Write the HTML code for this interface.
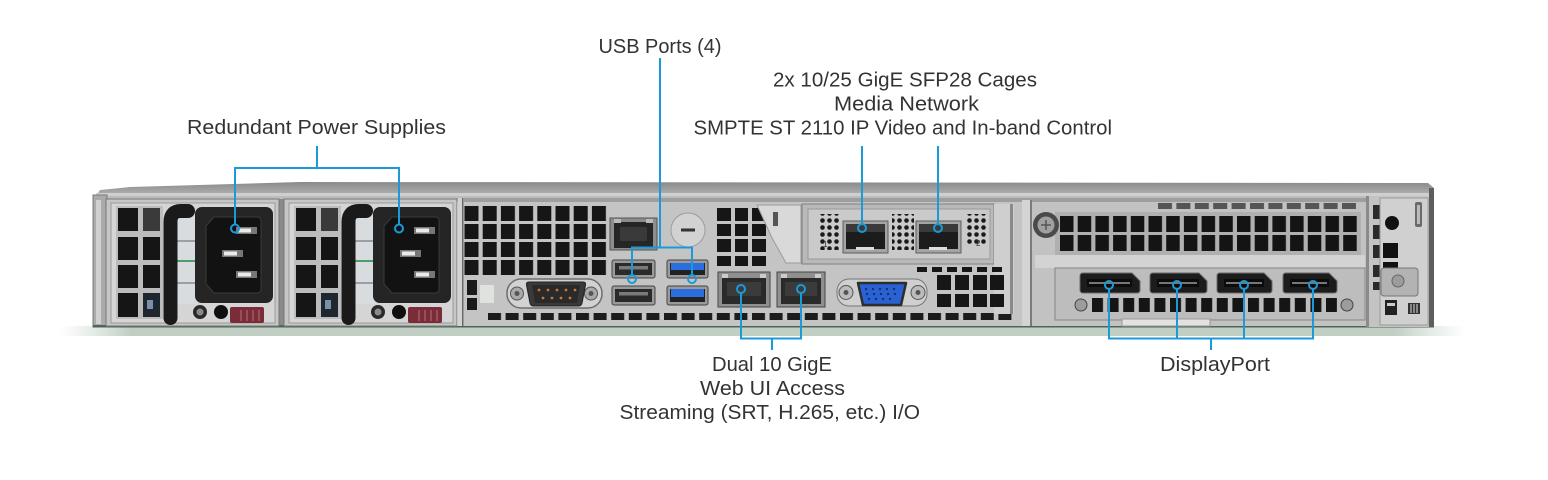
<!DOCTYPE html>
<html><head><meta charset="utf-8">
<style>
html,body{margin:0;padding:0;background:#fff;}
svg{display:block;}
text.l{font-family:"Liberation Sans",sans-serif;font-size:20px;fill:#333;}
</style></head>
<body>
<svg width="1548" height="480" viewBox="0 0 1548 480" xmlns="http://www.w3.org/2000/svg">
<defs>
 <linearGradient id="lid" x1="0" y1="0" x2="0" y2="1">
  <stop offset="0" stop-color="#8a8a8a"/><stop offset="0.6" stop-color="#a6a6a6"/><stop offset="1" stop-color="#c4c4c4"/>
 </linearGradient>
 <linearGradient id="shd" x1="0" y1="0" x2="1" y2="0">
  <stop offset="0" stop-color="#c9d6cc" stop-opacity="0"/>
  <stop offset="0.05" stop-color="#b9c9bd" stop-opacity="0.9"/>
  <stop offset="0.95" stop-color="#b9c9bd" stop-opacity="0.9"/>
  <stop offset="1" stop-color="#c9d6cc" stop-opacity="0"/>
 </linearGradient>
 <pattern id="pMB" x="464.5" y="206" width="18.2" height="18" patternUnits="userSpaceOnUse"><rect width="14" height="15" fill="#161616"/></pattern>
 <pattern id="pSlot" x="488" y="313" width="17.6" height="10" patternUnits="userSpaceOnUse"><rect width="13" height="7" fill="#1c1c1c"/></pattern>
 <pattern id="pGpu" x="1060" y="216" width="17.7" height="19" patternUnits="userSpaceOnUse"><rect width="13.5" height="16" fill="#141414"/></pattern>
 <pattern id="pGtop" x="1158" y="203" width="18.4" height="10" patternUnits="userSpaceOnUse"><rect width="14" height="6" fill="#555"/></pattern>
 <pattern id="pDpv" x="1092" y="298" width="15.6" height="20" patternUnits="userSpaceOnUse"><rect width="11" height="14" fill="#151515"/></pattern>
 <pattern id="pHex" x="0" y="0" width="7" height="7" patternUnits="userSpaceOnUse"><circle cx="3.5" cy="3.5" r="2.3" fill="#1a1a1a"/></pattern>
 <g id="psu">
  <rect x="106" y="199" width="173" height="127" fill="#c6c6c6" stroke="#777"/>
  <rect x="111" y="203" width="164" height="120" fill="#d5d5d5" stroke="#9a9a9a"/>
  <rect x="116" y="206" width="47" height="113" fill="#bcbcbc"/>
  <rect x="118" y="208" width="20" height="23" fill="#151515"/>
  <rect x="143" y="208" width="17" height="23" fill="#3a3a3a"/>
  <rect x="118" y="237" width="20" height="23" fill="#151515"/>
  <rect x="143" y="237" width="17" height="23" fill="#151515"/>
  <rect x="118" y="265" width="20" height="23" fill="#151515"/>
  <rect x="143" y="265" width="17" height="23" fill="#151515"/>
  <rect x="118" y="293" width="20" height="24" fill="#151515"/>
  <rect x="143" y="293" width="17" height="24" fill="#1e2630"/>
  <rect x="147" y="300" width="6" height="9" fill="#7a8fa8"/>
  <rect x="176" y="212" width="22" height="92" fill="#d8dcdf"/>
  <rect x="176" y="240" width="22" height="2" fill="#9aa0a5"/>
  <rect x="176" y="260" width="22" height="2" fill="#4d9c6d"/>
  <rect x="176" y="282" width="22" height="2" fill="#9aa0a5"/>
  <path d="M170.5 318 V222 Q170.5 211 181 211 H188" stroke="#1a1a1a" stroke-width="14" fill="none" stroke-linecap="round"/>
  <rect x="195" y="207" width="78" height="96" rx="7" fill="#252525"/>
  <path d="M214 217 H257 Q261 217 261 221 V289 Q261 293 257 293 H214 L206 284 V226 Z" fill="#121212" stroke="#3a3a3a"/>
  <rect x="236" y="227" width="21" height="7" fill="#777"/><rect x="238" y="228.5" width="13" height="4" fill="#eaeaea"/>
  <rect x="222" y="250" width="21" height="7" fill="#777"/><rect x="224" y="251.5" width="13" height="4" fill="#eaeaea"/>
  <rect x="236" y="271" width="21" height="7" fill="#777"/><rect x="238" y="272.5" width="13" height="4" fill="#eaeaea"/>
  <circle cx="200" cy="312" r="7" fill="#2a2a2a"/><circle cx="200" cy="312" r="3.5" fill="#8a8a8a"/>
  <circle cx="221" cy="312" r="7" fill="#0f0f0f"/>
  <rect x="230" y="307" width="34" height="16" rx="2" fill="#7a2c38"/>
  <path d="M241 310 V321 M247 310 V321 M253 310 V321 M259 310 V321" stroke="#a45a66" stroke-width="1.5"/>
 </g>
</defs>

<!-- shadow -->
<rect x="60" y="326" width="1405" height="10" fill="url(#shd)"/>

<!-- lid -->
<path d="M96 196 L100 190 L130 187 L300 182 L1428 183 L1434 188 L1434 198 L96 198 Z" fill="url(#lid)"/>
<rect x="96" y="193" width="1338" height="4" fill="#cfcfcf"/>

<!-- body -->
<rect x="93" y="196" width="1341" height="131" fill="#bdbdbd"/>
<rect x="93" y="195" width="14" height="132" fill="#ababab" stroke="#7a7a7a"/>
<rect x="96" y="200" width="5" height="124" fill="#d0d0d0"/>
<rect x="279" y="199" width="8" height="127" fill="#8a8a8a"/>
<rect x="93" y="325" width="1341" height="2.5" fill="#4f6656"/>

<!-- PSUs -->
<use href="#psu"/>
<use href="#psu" transform="translate(178,0)"/>

<!-- motherboard plate -->
<rect x="457" y="198" width="565" height="128" fill="#c4c4c4"/>
<rect x="457" y="198" width="565" height="4" fill="#9e9e9e"/>
<rect x="458" y="198" width="6" height="128" fill="#d2d2d2"/>
<rect x="462" y="198" width="1.5" height="128" fill="#666"/>
<rect x="464.5" y="206" width="142" height="70" fill="url(#pMB)"/>
<rect x="467" y="280" width="10" height="15" fill="#1a1a1a"/>
<rect x="467" y="298" width="10" height="12" fill="#1a1a1a"/>
<rect x="480" y="285" width="14" height="18" fill="#dfe3e0"/>
<rect x="488" y="313" width="528" height="7" fill="url(#pSlot)"/>

<!-- DB9 -->
<rect x="507" y="279" width="95" height="29" rx="14" fill="#d2d2d2" stroke="#6e6e6e" stroke-width="1.5"/>
<circle cx="517" cy="293.5" r="6.5" fill="#a9a9a9" stroke="#555"/><circle cx="517" cy="293.5" r="2.5" fill="#555"/>
<circle cx="591" cy="293.5" r="6.5" fill="#a9a9a9" stroke="#555"/><circle cx="591" cy="293.5" r="2.5" fill="#555"/>
<path d="M529 282 H583 Q586 282 585.5 285 L582 303 Q581.5 306 578 306 H534 Q530.5 306 530 303 L526.5 285 Q526 282 529 282Z" fill="#3a3a3a" stroke="#222"/>
<path d="M532 285 H580 L577 303 H535Z" fill="#2a2a2a"/>
<g fill="#c4773a"><circle cx="539" cy="290" r="1.4"/><circle cx="548" cy="290" r="1.4"/><circle cx="557" cy="290" r="1.4"/><circle cx="566" cy="290" r="1.4"/><circle cx="575" cy="290" r="1.4"/><circle cx="543" cy="298" r="1.4"/><circle cx="552" cy="298" r="1.4"/><circle cx="561" cy="298" r="1.4"/><circle cx="570" cy="298" r="1.4"/></g>

<!-- IPMI RJ45 -->
<rect x="610" y="218" width="47" height="32" fill="#8d8d8d" stroke="#555"/>
<rect x="614" y="222" width="39" height="26" fill="#262626"/>
<rect x="620" y="227" width="27" height="14" fill="#3a3a3a"/>
<rect x="614" y="219" width="7" height="4" fill="#bbb"/><rect x="646" y="219" width="7" height="4" fill="#bbb"/>
<circle cx="688" cy="230" r="17" fill="#d2d2d2" stroke="#9c9c9c"/>
<rect x="681" y="228.5" width="14" height="3" fill="#333"/>

<!-- USB -->
<rect x="612" y="260" width="43" height="18" rx="2" fill="#9a9a9a" stroke="#444"/><rect x="615" y="263" width="37" height="12" fill="#2a2a2a"/><rect x="619" y="266" width="29" height="3.5" fill="#7a7a7a"/>
<rect x="612" y="286" width="43" height="19" rx="2" fill="#9a9a9a" stroke="#444"/><rect x="615" y="289" width="37" height="13" fill="#2a2a2a"/><rect x="619" y="292" width="29" height="3.5" fill="#7a7a7a"/>
<rect x="667" y="260" width="41" height="18" rx="2" fill="#9a9a9a" stroke="#444"/><rect x="670" y="263" width="35" height="12" fill="#222"/><rect x="671" y="263" width="33" height="7" fill="#2b6ee0"/>
<rect x="667" y="286" width="41" height="19" rx="2" fill="#9a9a9a" stroke="#444"/><rect x="670" y="289" width="35" height="13" fill="#222"/><rect x="671" y="289" width="33" height="8" fill="#2b6ee0"/>

<!-- grille right of USB -->
<g fill="#161616">
<rect x="717" y="208" width="14" height="13"/><rect x="735" y="208" width="13" height="13"/><rect x="752" y="208" width="12" height="13"/>
<rect x="717" y="224" width="14" height="12"/><rect x="735" y="224" width="13" height="12"/><rect x="752" y="224" width="14" height="12"/>
<rect x="717" y="239" width="14" height="13"/><rect x="735" y="239" width="13" height="13"/><rect x="752" y="239" width="14" height="13"/>
<rect x="717" y="256" width="14" height="10"/><rect x="735" y="256" width="13" height="10"/><rect x="752" y="256" width="14" height="10"/>
</g>

<!-- RJ45 pair -->
<rect x="718" y="272" width="52" height="35" fill="#8f8f8f" stroke="#444"/><rect x="722" y="278" width="44" height="26" fill="#2a2a2a"/><rect x="727" y="282" width="34" height="14" fill="#3b3b3b"/>
<rect x="722" y="274" width="6" height="4" fill="#ccc"/><rect x="760" y="274" width="6" height="4" fill="#ccc"/>
<rect x="777" y="272" width="48" height="35" fill="#8f8f8f" stroke="#444"/><rect x="781" y="278" width="40" height="26" fill="#2a2a2a"/><rect x="785" y="282" width="32" height="14" fill="#3b3b3b"/>
<rect x="781" y="274" width="6" height="4" fill="#ccc"/><rect x="815" y="274" width="6" height="4" fill="#ccc"/>

<!-- riser / SFP -->
<path d="M757 205 H801 V263 H786 L772 238 Z" fill="#d9d9d9" stroke="#9a9a9a"/>
<rect x="773" y="212" width="5" height="14" fill="#555"/>
<rect x="802" y="204" width="192" height="60" fill="#b9b9b9" stroke="#808080"/>
<rect x="808" y="209" width="182" height="50" fill="#cacaca" stroke="#999"/>
<rect x="818" y="214" width="22" height="36" fill="url(#pHex)"/>
<rect x="892" y="214" width="22" height="36" fill="url(#pHex)"/>
<rect x="965" y="214" width="22" height="32" fill="url(#pHex)"/>
<rect x="843" y="221" width="45" height="32" fill="#a4a4a4" stroke="#5e5e5e"/><rect x="846" y="224" width="39" height="25" fill="#1c1c1c"/><rect x="846" y="224" width="39" height="8" fill="#3a3a3a"/><rect x="856" y="247" width="18" height="3" fill="#ddd"/>
<rect x="916" y="221" width="45" height="32" fill="#a4a4a4" stroke="#5e5e5e"/><rect x="919" y="224" width="39" height="25" fill="#1c1c1c"/><rect x="919" y="224" width="39" height="8" fill="#3a3a3a"/><rect x="929" y="247" width="18" height="3" fill="#ddd"/>
<text x="823" y="247" font-family="Liberation Sans, sans-serif" font-size="8" fill="#333">1</text>
<text x="976" y="246" font-family="Liberation Sans, sans-serif" font-size="8" fill="#333">2</text>
<rect x="994" y="204" width="20" height="110" fill="#cfcfcf"/>
<rect x="1010" y="204" width="3" height="110" fill="#8a8a8a"/>

<!-- VGA -->
<rect x="837" y="279" width="90" height="27" rx="12" fill="#d0d0d0" stroke="#777"/>
<circle cx="846" cy="292.5" r="7" fill="#bcbcbc" stroke="#555"/><circle cx="846" cy="292.5" r="2.5" fill="#555"/>
<circle cx="918" cy="292.5" r="7" fill="#bcbcbc" stroke="#555"/><circle cx="918" cy="292.5" r="2.5" fill="#555"/>
<path d="M858 283 H906 L901 305 H863Z" fill="#2a62d4" stroke="#2d2d2d" stroke-width="2.5" stroke-linejoin="round"/>
<g fill="#18306a"><circle cx="866" cy="289" r="1.2"/><circle cx="873" cy="289" r="1.2"/><circle cx="880" cy="289" r="1.2"/><circle cx="887" cy="289" r="1.2"/><circle cx="894" cy="289" r="1.2"/><circle cx="867" cy="294" r="1.2"/><circle cx="874" cy="294" r="1.2"/><circle cx="881" cy="294" r="1.2"/><circle cx="888" cy="294" r="1.2"/><circle cx="895" cy="294" r="1.2"/><circle cx="869" cy="299" r="1.2"/><circle cx="876" cy="299" r="1.2"/><circle cx="883" cy="299" r="1.2"/><circle cx="890" cy="299" r="1.2"/></g>

<!-- grille right of VGA -->
<g fill="#161616">
<rect x="917" y="267" width="10" height="5"/><rect x="932" y="267" width="10" height="5"/><rect x="947" y="267" width="10" height="5"/><rect x="962" y="267" width="10" height="5"/><rect x="977" y="267" width="10" height="5"/><rect x="992" y="267" width="10" height="5"/>
<rect x="937" y="275" width="14" height="15"/><rect x="955" y="275" width="14" height="15"/><rect x="973" y="275" width="14" height="15"/><rect x="990" y="275" width="14" height="15"/>
<rect x="937" y="294" width="14" height="13"/><rect x="955" y="294" width="14" height="13"/><rect x="973" y="294" width="14" height="13"/><rect x="990" y="294" width="14" height="13"/>
</g>

<!-- GPU section -->
<rect x="1022" y="198" width="346" height="128" fill="#c2c2c2"/>
<rect x="1022" y="198" width="346" height="4" fill="#9e9e9e"/>
<rect x="1022" y="200" width="8" height="126" fill="#d4d4d4"/>
<rect x="1030" y="200" width="2" height="126" fill="#7a7a7a"/>
<rect x="1158" y="203" width="198" height="6" fill="url(#pGtop)"/>
<rect x="1055" y="212" width="306" height="43" fill="#b0b0b0"/>
<rect x="1060" y="216" width="297" height="35" fill="url(#pGpu)"/>
<circle cx="1046" cy="225" r="13" fill="#4a4a4a"/><circle cx="1046" cy="225" r="8.5" fill="#a0a0a0"/>
<path d="M1041 225 H1051 M1046 220 V230" stroke="#555" stroke-width="1.5"/>
<rect x="1035" y="255" width="330" height="13" fill="#d3d3d3"/>
<rect x="1055" y="268" width="310" height="52" fill="#bdbdbd" stroke="#858585"/>
<g>
 <path d="M1083 273 H1132 L1140 281 V290 Q1140 293 1137 293 H1083 Q1080 293 1080 290 V276 Q1080 273 1083 273Z" fill="#1c1c1c" stroke="#6a6a6a"/>
 <rect x="1087" y="279" width="45" height="8" fill="#0b0b0b"/><rect x="1089" y="282" width="41" height="2" fill="#777"/>
 <path d="M1153 273 H1199 L1207 281 V290 Q1207 293 1204 293 H1153 Q1150 293 1150 290 V276 Q1150 273 1153 273Z" fill="#1c1c1c" stroke="#6a6a6a"/>
 <rect x="1157" y="279" width="42" height="8" fill="#0b0b0b"/><rect x="1159" y="282" width="38" height="2" fill="#777"/>
 <path d="M1220 273 H1264 L1272 281 V290 Q1272 293 1269 293 H1220 Q1217 293 1217 290 V276 Q1217 273 1220 273Z" fill="#1c1c1c" stroke="#6a6a6a"/>
 <rect x="1224" y="279" width="40" height="8" fill="#0b0b0b"/><rect x="1226" y="282" width="36" height="2" fill="#777"/>
 <path d="M1286 273 H1329 L1337 281 V290 Q1337 293 1334 293 H1286 Q1283 293 1283 290 V276 Q1283 273 1286 273Z" fill="#1c1c1c" stroke="#6a6a6a"/>
 <rect x="1290" y="279" width="39" height="8" fill="#0b0b0b"/><rect x="1292" y="282" width="35" height="2" fill="#777"/>
</g>
<rect x="1092" y="298" width="245" height="14" fill="url(#pDpv)"/>
<circle cx="1081" cy="305" r="6" fill="#9c9c9c" stroke="#444"/><circle cx="1347" cy="305" r="6" fill="#9c9c9c" stroke="#444"/>
<rect x="1122" y="319" width="88" height="7" fill="#e2e2e2" stroke="#999"/>

<!-- right end bracket -->
<rect x="1366" y="196" width="68" height="131" fill="#c3c3c3"/>
<rect x="1366" y="196" width="3" height="131" fill="#8a8a8a"/>
<g fill="#2a2a2a"><rect x="1373" y="205" width="7" height="14"/><rect x="1373" y="225" width="7" height="14"/><rect x="1373" y="245" width="7" height="13"/><rect x="1373" y="265" width="7" height="12"/><rect x="1373" y="282" width="7" height="8"/></g>
<rect x="1380" y="198" width="48" height="127" fill="#d0d0d0" stroke="#9a9a9a"/>
<circle cx="1392" cy="223" r="7" fill="#111"/>
<rect x="1383" y="243" width="15" height="15" fill="#111"/>
<rect x="1383" y="262" width="15" height="6" fill="#111"/>
<rect x="1415" y="202" width="7" height="25" rx="2" fill="#6a6a6a"/><rect x="1417" y="205" width="3" height="19" fill="#bbb"/>
<rect x="1381" y="268" width="37" height="28" rx="3" fill="#b3b3b3" stroke="#777"/>
<circle cx="1398" cy="281" r="6" fill="#9c9c9c" stroke="#666"/>
<rect x="1385" y="300" width="12" height="15" fill="#222"/><rect x="1387" y="303" width="8" height="3" fill="#ccc"/>
<rect x="1408" y="303" width="12" height="11" fill="#333"/><path d="M1411 304 V313 M1414 304 V313 M1417 304 V313" stroke="#ddd"/>
<rect x="1429" y="188" width="5" height="139" fill="#5e5e5e"/>

<!-- callout lines -->
<g stroke="#1b9ad7" stroke-width="2" fill="none">
 <path d="M317 146 V168 M234 168 H400 M235 167 V224.5 M399 167 V224.5"/>
 <circle cx="235" cy="228.5" r="4"/><circle cx="399" cy="228.5" r="4"/>
 <path d="M660 58 V247.5 M631 247.5 H693 M632 246.5 V275 M692 246.5 V275"/>
 <circle cx="632" cy="279" r="4"/><circle cx="692" cy="279" r="4"/>
 <path d="M862 146 V224 M938 146 V224"/>
 <circle cx="862" cy="228" r="4"/><circle cx="938" cy="228" r="4"/>
 <path d="M741 293 V338.5 H801 V293 M772 338.5 V350"/>
 <circle cx="741" cy="289" r="4"/><circle cx="801" cy="289" r="4"/>
 <path d="M1109 289 V338.5 H1313 V289 M1177 289 V338.5 M1244 289 V338.5 M1211 338.5 V350"/>
 <circle cx="1109" cy="285" r="4"/><circle cx="1177" cy="285" r="4"/><circle cx="1244" cy="285" r="4"/><circle cx="1313" cy="285" r="4"/>
</g>

<!-- labels -->
<text class="l" x="187" y="134" textLength="259" lengthAdjust="spacingAndGlyphs">Redundant Power Supplies</text>
<text class="l" x="598.5" y="53" textLength="123" lengthAdjust="spacingAndGlyphs">USB Ports (4)</text>
<text class="l" x="773" y="86.5" textLength="264" lengthAdjust="spacingAndGlyphs">2x 10/25 GigE SFP28 Cages</text>
<text class="l" x="834" y="110.5" textLength="145" lengthAdjust="spacingAndGlyphs">Media Network</text>
<text class="l" x="693.5" y="134.3" textLength="418.5" lengthAdjust="spacingAndGlyphs">SMPTE ST 2110 IP Video and In-band Control</text>
<text class="l" x="712" y="371" textLength="120" lengthAdjust="spacingAndGlyphs">Dual 10 GigE</text>
<text class="l" x="700" y="395" textLength="145" lengthAdjust="spacingAndGlyphs">Web UI Access</text>
<text class="l" x="619.5" y="419" textLength="300.5" lengthAdjust="spacingAndGlyphs">Streaming (SRT, H.265, etc.) I/O</text>
<text class="l" x="1160" y="371" textLength="110" lengthAdjust="spacingAndGlyphs">DisplayPort</text>
</svg>
</body></html>
